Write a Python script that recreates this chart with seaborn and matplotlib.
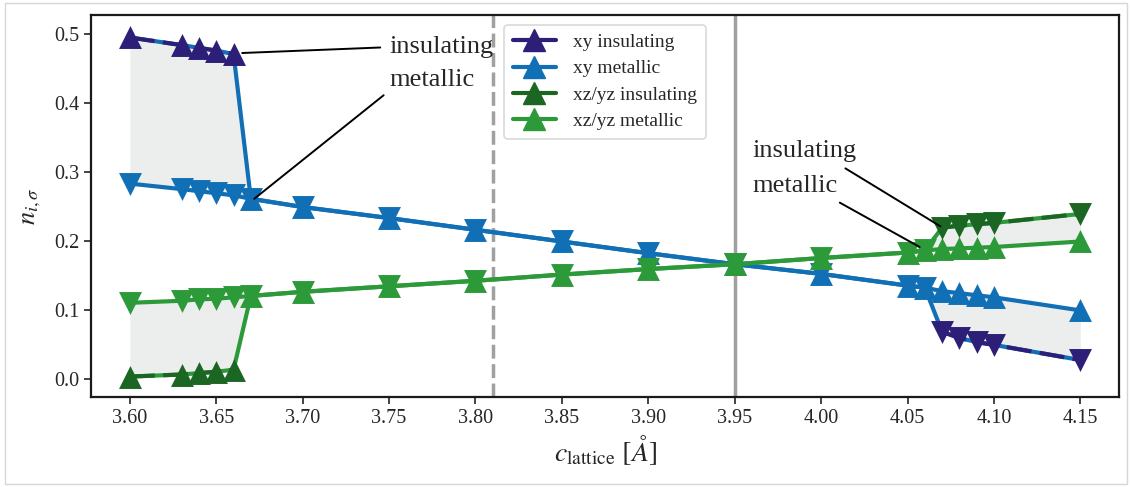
import matplotlib
matplotlib.use("Agg")
import matplotlib.pyplot as plt
from matplotlib.lines import Line2D
from matplotlib.patches import Rectangle
import seaborn as sns
import numpy as np
import pandas as pd

# ---------------- data ----------------
c_lattice = [3.60, 3.63, 3.64, 3.65, 3.66, 3.67, 3.70, 3.75, 3.80, 3.85, 3.90,
             3.95, 4.00, 4.05, 4.06, 4.07, 4.08, 4.09, 4.10, 4.15]
# sweep A (up-triangles): insulating at small c, metallic afterwards
xy_sweep_a = [0.495, 0.484, 0.480, 0.476, 0.471, 0.261, 0.249, 0.233, 0.216, 0.199,
              0.182, 0.166, 0.152, 0.135, 0.132, 0.127, 0.124, 0.121, 0.118, 0.099]
xz_sweep_a = [0.003, 0.006, 0.008, 0.010, 0.013, 0.120, 0.126, 0.134, 0.142, 0.151,
              0.159, 0.166, 0.175, 0.183, 0.186, 0.188, 0.189, 0.190, 0.191, 0.199]
ins_a = [True] * 5 + [False] * 15
# sweep B (down-triangles): metallic until 4.06, insulating afterwards
xy_sweep_b = [0.283, 0.275, 0.272, 0.269, 0.266, 0.261, 0.249, 0.233, 0.216, 0.199,
              0.182, 0.166, 0.152, 0.135, 0.132, 0.068, 0.059, 0.053, 0.049, 0.027]
xz_sweep_b = [0.110, 0.113, 0.115, 0.116, 0.118, 0.120, 0.126, 0.134, 0.142, 0.151,
              0.159, 0.166, 0.175, 0.183, 0.186, 0.219, 0.222, 0.224, 0.226, 0.239]
ins_b = [False] * 15 + [True] * 5

labels = ["xy insulating", "xy metallic", "xz/yz insulating", "xz/yz metallic"]
vline_dashed = 3.81
vline_solid = 3.95

# ---------------- style ----------------
sns.set_style("ticks")
plt.rcParams["font.family"] = ["Liberation Serif", "DejaVu Serif"]
plt.rcParams["mathtext.fontset"] = "stix"

col_xy_ins = "#2d1e78"
col_xy_met = "#1170b5"
col_xz_ins = "#1b6623"
col_xz_met = "#2d9a3a"
fill_col = "#eceeee"
ms = 16.5
lw = 3

fig = plt.figure(figsize=(11.3, 4.87), dpi=100)
ax = fig.add_axes([0.0805, 0.185, 0.910, 0.784])

c = np.array(c_lattice)

def draw(ya, yb, cin, cmet):
    ya = np.array(ya); yb = np.array(yb)
    ia = np.array(ins_a); ib = np.array(ins_b)
    ax.fill_between(c, ya, yb, color=fill_col, lw=0, zorder=1)
    for y, ins, mk in ((ya, ia, "^"), (yb, ib, "v")):
        df = pd.DataFrame({"c": c, "n": y})
        sns.lineplot(data=df, x="c", y="n", ax=ax, color=cmet, lw=lw,
                     estimator=None, sort=False, zorder=2)
        dins = df[ins]
        sns.lineplot(data=dins, x="c", y="n", ax=ax, color=cin, lw=lw,
                     estimator=None, sort=False, zorder=2.5, dashes=False)
        ax.lines[-1].set_dashes([6, 2])
        dmet = df[~ins]
        sns.scatterplot(data=dmet, x="c", y="n", ax=ax, color=cmet, marker=mk,
                        s=ms ** 2, linewidth=0, zorder=3)
        sns.scatterplot(data=dins, x="c", y="n", ax=ax, color=cin, marker=mk,
                        s=ms ** 2, linewidth=0, zorder=3)

draw(xy_sweep_a, xy_sweep_b, col_xy_ins, col_xy_met)
draw(xz_sweep_a, xz_sweep_b, col_xz_ins, col_xz_met)

ax.axvline(vline_dashed, color="#a0a0a0", lw=2.5, ls=(0, (4, 1.6)), zorder=0.5)
ax.axvline(vline_solid, color="#a0a0a0", lw=2.5, zorder=0.5)

ax.set_xlim(3.5775, 4.1725)
ax.set_ylim(-0.0265, 0.5275)
ax.set_xticks(np.arange(3.60, 4.151, 0.05))
ax.set_xticklabels([f"{v:.2f}" for v in np.arange(3.60, 4.151, 0.05)])
ax.set_yticks([0.0, 0.1, 0.2, 0.3, 0.4, 0.5])
ax.tick_params(labelsize=14.5, width=1.2, length=5, color="#222222")
for sp in ax.spines.values():
    sp.set_linewidth(1.6)
    sp.set_color("#1a1a1a")
    sp.set_visible(True)

ax.set_xlabel(r"$c_{\mathrm{lattice}}$ $[\AA]$", fontsize=20, labelpad=4)
ax.set_ylabel(r"$n_{i,\sigma}$", fontsize=19, labelpad=8)

ap = dict(arrowstyle="-", color="black", lw=1.4, shrinkA=2, shrinkB=0)
fs_ann = 19
ax.annotate("insulating", xy=(3.665, 0.4725), xytext=(3.750, 0.481), fontsize=fs_ann,
            ha="left", va="center", arrowprops=dict(ap, relpos=(0, 0.5), shrinkA=4))
ax.annotate("metallic", xy=(3.672, 0.261), xytext=(3.750, 0.4335), fontsize=fs_ann,
            ha="left", va="center", arrowprops=dict(ap, relpos=(0, 0)))
ax.annotate("insulating", xy=(4.069, 0.221), xytext=(3.960, 0.330), fontsize=fs_ann,
            ha="left", va="center", arrowprops=dict(ap, relpos=(0.8, 0), shrinkA=4))
ax.annotate("metallic", xy=(4.057, 0.191), xytext=(3.960, 0.280), fontsize=fs_ann,
            ha="left", va="center", arrowprops=dict(ap, relpos=(0.95, -0.1), shrinkA=4))

handles = [Line2D([], [], color=col, lw=lw, marker="^", markersize=ms)
           for col in (col_xy_ins, col_xy_met, col_xz_ins, col_xz_met)]
leg = ax.legend(handles, labels, loc="upper center", bbox_to_anchor=(0.5, 0.985),
                fontsize=14, frameon=True, handlelength=2.2, labelspacing=0.45,
                borderpad=0.45, handletextpad=0.9, borderaxespad=0.2)
leg.get_frame().set_edgecolor("#d0d0d0")
leg.get_frame().set_linewidth(1.2)

fig.patches.append(Rectangle((5 / 1130, 3 / 487), 1122 / 1130, 481 / 487,
                             transform=fig.transFigure, fill=False,
                             edgecolor="#d6d6d6", lw=1))

fig.savefig("out.png", dpi=100)
